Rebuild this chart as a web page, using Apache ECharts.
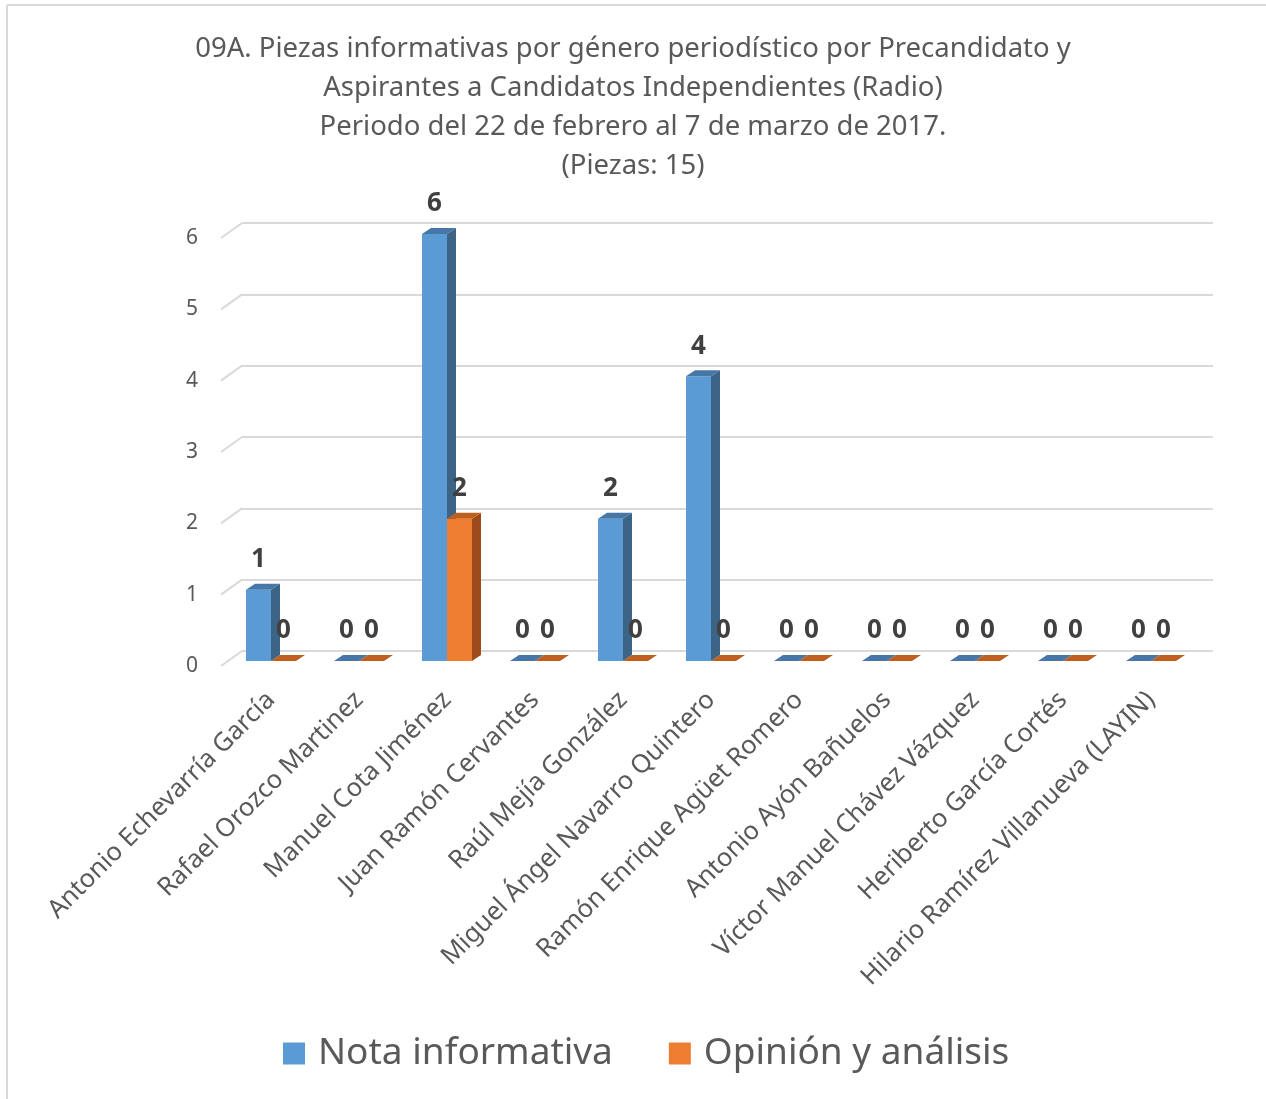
<!DOCTYPE html>
<html>
<head>
<meta charset="utf-8">
<script src="https://cdn.jsdelivr.net/npm/echarts@6/dist/echarts.min.js"></script>
<style>
html,body{margin:0;padding:0;background:#fff;}
#chart{width:1266px;height:1099px;}
</style>
</head>
<body>
<div id="chart"></div>
<script>
var titleText = '09A. Piezas informativas por género periodístico por Precandidato y\nAspirantes a Candidatos Independientes (Radio)\nPeriodo del 22 de febrero al 7 de marzo de 2017.\n(Piezas: 15)';
var categories = [
  'Antonio Echevarría García',
  'Rafael Orozco Martinez',
  'Manuel Cota Jiménez',
  'Juan Ramón Cervantes',
  'Raúl Mejía González',
  'Miguel Ángel Navarro Quintero',
  'Ramón Enrique Agüet Romero',
  'Antonio Ayón Bañuelos',
  'Víctor Manuel Chávez Vázquez',
  'Heriberto García Cortés',
  'Hilario Ramírez Villanueva (LAYIN)'
];
var notaInformativa = [1, 0, 6, 0, 2, 4, 0, 0, 0, 0, 0];
var opinionAnalisis = [0, 0, 2, 0, 0, 0, 0, 0, 0, 0, 0];
var yTicks = [0, 1, 2, 3, 4, 5, 6];

var FONT = '"Noto Sans", "Open Sans", sans-serif';

function makeRender(side, front, sideCol, topCol) {
  return function (params, api) {
    var cat = api.value(0), v = api.value(1);
    var top = api.coord([cat, v]);
    var base = api.coord([cat, 0]);
    var band = api.size([1, 0])[0];
    var bw = band * 0.284;
    var x0 = side < 0 ? top[0] - bw : top[0];
    var x1 = x0 + bw;
    var yt = top[1], yb = base[1];
    var dx = 9, dy = 6;
    var children = [];
    if (yb - yt > 0.5) {
      children.push({type: 'rect', shape: {x: x0, y: yt, width: bw, height: yb - yt}, style: {fill: front}});
      children.push({type: 'polygon', shape: {points: [[x1, yt], [x1 + dx, yt - dy], [x1 + dx, yb - dy], [x1, yb]]}, style: {fill: sideCol}});
    }
    children.push({type: 'polygon', shape: {points: [[x0, yt], [x1, yt], [x1 + dx, yt - dy], [x0 + dx, yt - dy]]}, style: {fill: topCol}});
    children.push({type: 'text', style: {text: String(v), x: (x0 + x1) / 2, y: yt - 30, align: 'center', verticalAlign: 'middle', fontSize: 26, fontWeight: 'bold', fontFamily: FONT, fill: '#404040'}});
    return {type: 'group', children: children};
  };
}

var chart = echarts.init(document.getElementById('chart'));
var option = {
  backgroundColor: '#ffffff',
  animation: false,
  title: {
    text: titleText,
    left: 'center',
    top: 25,
    textStyle: {fontFamily: FONT, fontSize: 27.5, fontWeight: 'normal', color: '#595959', lineHeight: 39}
  },
  legend: {
    bottom: 22,
    left: 278,
    icon: 'rect',
    itemWidth: 22,
    itemHeight: 22,
    itemGap: 56,
    textStyle: {fontFamily: FONT, fontSize: 37, color: '#595959', padding: [0, 0, 0, 8]},
    data: ['Nota informativa', 'Opinión y análisis']
  },
  graphic: [
    {type: 'line', shape: {x1: 7, y1: 5, x2: 1266, y2: 5}, style: {stroke: '#d9d9d9', lineWidth: 2}, silent: true},
    {type: 'line', shape: {x1: 7, y1: 5, x2: 7, y2: 1099}, style: {stroke: '#d9d9d9', lineWidth: 2}, silent: true}
  ],
  grid: [
    {left: 227, width: 968, top: 234, bottom: 438},
    {left: 242, right: 53, top: 223, bottom: 448},
    {left: 220, width: 10, top: 238, bottom: 433}
  ],
  xAxis: [
    {type: 'category', gridIndex: 0, data: categories,
     axisLine: {show: false}, axisTick: {show: false},
     axisLabel: {rotate: 45, margin: 35, fontFamily: FONT, fontSize: 25.5, color: '#595959', interval: 0}},
    {type: 'value', gridIndex: 1, min: 0, max: 1, show: false},
    {type: 'value', gridIndex: 2, min: 0, max: 1, show: false}
  ],
  yAxis: [
    {type: 'value', gridIndex: 0, min: 0, max: 6, show: false},
    {type: 'value', gridIndex: 1, min: 0, max: 6, interval: 1,
     axisLine: {show: false}, axisTick: {show: false}, axisLabel: {show: false},
     splitLine: {lineStyle: {color: '#d9d9d9', width: 2}}},
    {type: 'value', gridIndex: 2, min: 0, max: 6, interval: 1,
     axisLine: {show: false}, axisTick: {show: false}, splitLine: {show: false},
     axisLabel: {margin: 22, fontFamily: FONT, fontSize: 21, color: '#595959'}}
  ],
  series: [
    {
      type: 'custom', name: 'diag', xAxisIndex: 1, yAxisIndex: 1, silent: true, z: 1,
      data: yTicks.map(function (t) { return [0, t]; }),
      renderItem: function (params, api) {
        var p = api.coord([0, api.value(1)]);
        return {type: 'line', shape: {x1: p[0] - 21, y1: p[1] + 15, x2: p[0], y2: p[1]}, style: {stroke: '#d9d9d9', lineWidth: 2}};
      }
    },
    {
      type: 'custom', name: 'Nota informativa', xAxisIndex: 0, yAxisIndex: 0, z: 3,
      itemStyle: {color: '#5b9bd5'},
      data: notaInformativa.map(function (v, i) { return [i, v]; }),
      renderItem: makeRender(-1, '#5b9bd5', '#3b6487', '#4677a6')
    },
    {
      type: 'custom', name: 'Opinión y análisis', xAxisIndex: 0, yAxisIndex: 0, z: 3,
      itemStyle: {color: '#ed7d31'},
      data: opinionAnalisis.map(function (v, i) { return [i, v]; }),
      renderItem: makeRender(1, '#ed7d31', '#9e4b1c', '#c0601f')
    }
  ]
};
chart.setOption(option);
</script>
</body>
</html>
